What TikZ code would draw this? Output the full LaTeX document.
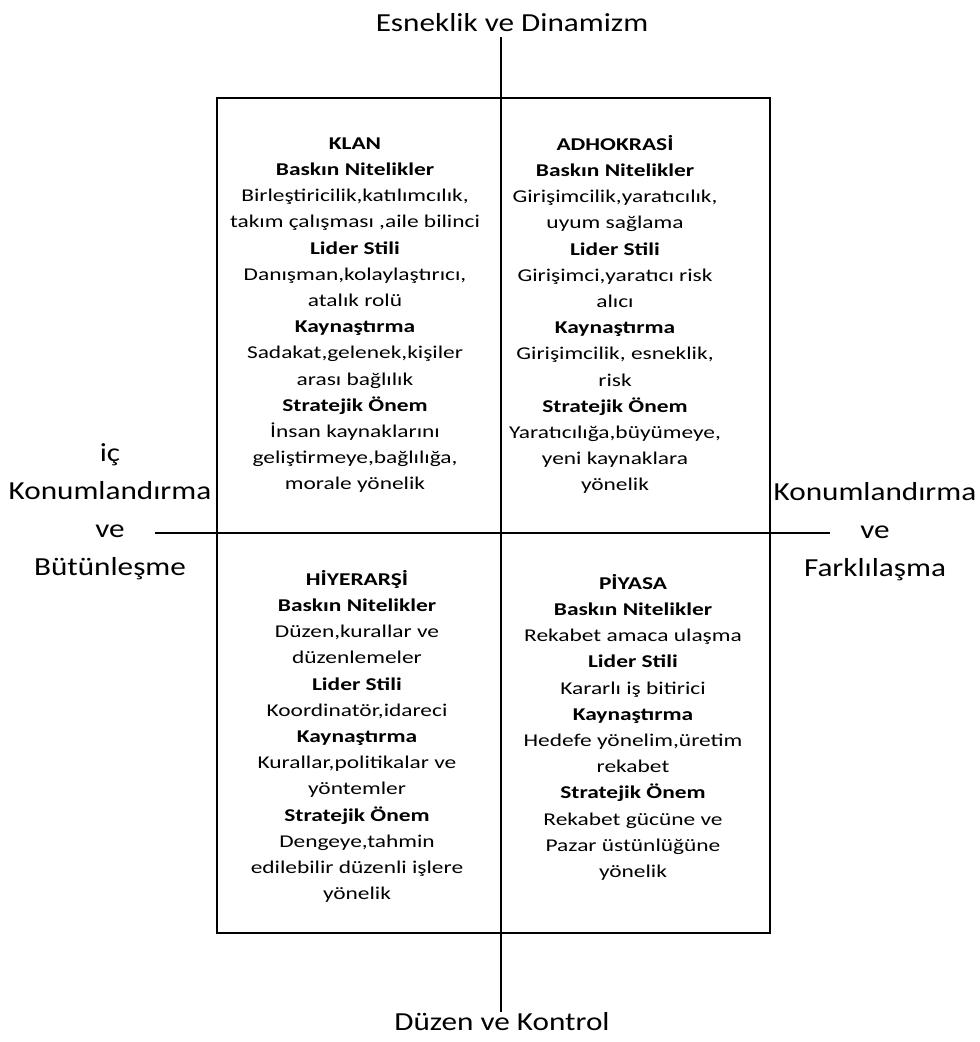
\documentclass[tikz,border=0pt]{standalone}
\usepackage{fontspec}
\setmainfont{Carlito}[FakeStretch=1.3]
\newfontfamily\axisfont{Carlito}[FakeStretch=1.2]
\tikzset{
  quadtext/.style={anchor=north, align=center, inner sep=0pt,
    font=\fontsize{18}{26.2}\selectfont},
  axislabel/.style={align=center, inner sep=0pt,
    font=\axisfont\fontsize{26}{38}\selectfont},
  axisline/.style={line width=2pt},
  frameline/.style={line width=2.8pt}
}
\begin{document}
\begin{tikzpicture}[x=1pt, y=-1pt]
    \useasboundingbox (0,0) rectangle (980,1042);

    % Outer frame
    \draw[frameline] (217,98) rectangle (770,933);

    % Axes
    \coordinate (top) at (501,37);
    \coordinate (bottom) at (501,1012);
    \coordinate (left) at (155,533);
    \coordinate (right) at (830,533);
    \draw[axisline] (top) -- (bottom);
    \draw[axisline] (left) -- (right);

    % Axis labels
    \node[axislabel] (flex) at (512,23) {Esneklik ve Dinamizm};
    \node[axislabel] (order) at (502,1022) {Düzen ve Kontrol};
    \node[axislabel] (internal) at (110,512) {iç\\ Konumlandırma\\ ve\\ Bütünleşme};
    \node[axislabel] (external) at (875,532) {Konumlandırma\\ ve\\ Farklılaşma};

    % Quadrants
    \node[quadtext] (clan) at (355,135) {\rule{0pt}{14pt}\textbf{KLAN}\\
      \textbf{Baskın Nitelikler}\\ Birleştiricilik,katılımcılık,\\
      takım çalışması ,aile bilinci\\ \textbf{Lider Stili}\\
      Danışman,kolaylaştırıcı,\\ atalık rolü\\ \textbf{Kaynaştırma}\\
      Sadakat,gelenek,kişiler\\ arası bağlılık\\ \textbf{Stratejik Önem}\\
      İnsan kaynaklarını\\ geliştirmeye,bağlılığa,\\ morale yönelik};
    \node[quadtext] (adhocracy) at (615,135) {\rule{0pt}{14pt}\textbf{ADHOKRASİ}\\
      \textbf{Baskın Nitelikler}\\ Girişimcilik,yaratıcılık,\\
      uyum sağlama\\ \textbf{Lider Stili}\\
      Girişimci,yaratıcı risk\\ alıcı\\ \textbf{Kaynaştırma}\\
      Girişimcilik, esneklik,\\ risk\\ \textbf{Stratejik Önem}\\
      Yaratıcılığa,büyümeye,\\ yeni kaynaklara\\ yönelik};
    \node[quadtext] (hierarchy) at (357,570) {\rule{0pt}{14pt}\textbf{HİYERARŞİ}\\
      \textbf{Baskın Nitelikler}\\ Düzen,kurallar ve\\
      düzenlemeler\\ \textbf{Lider Stili}\\
      Koordinatör,idareci\\ \textbf{Kaynaştırma}\\
      Kurallar,politikalar ve\\ yöntemler\\ \textbf{Stratejik Önem}\\
      Dengeye,tahmin\\ edilebilir düzenli işlere\\ yönelik};
    \node[quadtext] (market) at (633,574) {\rule{0pt}{14pt}\textbf{PİYASA}\\
      \textbf{Baskın Nitelikler}\\ Rekabet amaca ulaşma\\
      \textbf{Lider Stili}\\ Kararlı iş bitirici\\ \textbf{Kaynaştırma}\\
      Hedefe yönelim,üretim\\ rekabet\\ \textbf{Stratejik Önem}\\
      Rekabet gücüne ve\\ Pazar üstünlüğüne\\ yönelik};
\end{tikzpicture}
\end{document}
